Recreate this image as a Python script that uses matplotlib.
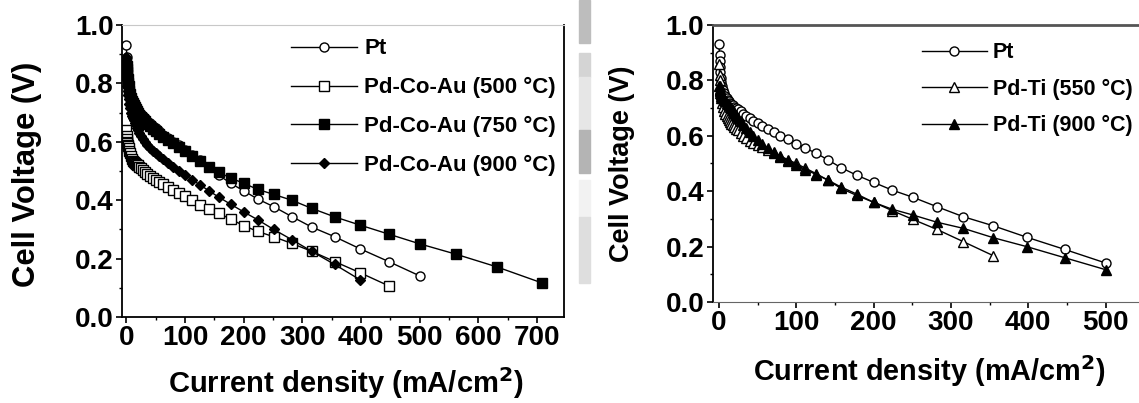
import matplotlib
matplotlib.use('Agg')
import matplotlib.pyplot as plt
from matplotlib.patches import Rectangle
from matplotlib.ticker import MultipleLocator

plt.rcParams['font.family'] = ['Liberation Sans', 'DejaVu Sans']
plt.rcParams['font.weight'] = 'bold'
plt.rcParams['mathtext.default'] = 'bf'

# current density grid (mA/cm2), shared by every curve
cur = [0, 1.0, 1.26, 1.58, 2.0, 2.51, 3.16, 3.98, 5.01, 6.31, 7.94, 10.0,
       11.2, 12.6, 14.1, 15.8, 17.8, 20.0, 22.4, 25.1, 28.2, 31.6, 35.5,
       39.8, 44.7, 50.1, 56.2, 63.1, 70.8, 79.4, 89.1, 100, 112, 126, 141,
       158, 178, 200, 224, 251, 282, 316, 355, 398, 447, 501, 562, 631, 708]

# cell voltages (V)
v_pt = [0.93, 0.89, 0.87, 0.85, 0.83, 0.81, 0.795, 0.78, 0.765, 0.755,
        0.745, 0.735, 0.73, 0.725, 0.72, 0.715, 0.71, 0.705, 0.70, 0.696,
        0.688, 0.68, 0.672, 0.664, 0.655, 0.646, 0.636, 0.625, 0.613, 0.60,
        0.588, 0.572, 0.555, 0.537, 0.513, 0.485, 0.458, 0.432, 0.404,
        0.378, 0.344, 0.308, 0.275, 0.234, 0.19, 0.14]
v_pca500 = [0.64, 0.62, 0.61, 0.60, 0.595, 0.59, 0.585, 0.578, 0.57, 0.56,
            0.55, 0.54, 0.535, 0.53, 0.527, 0.524, 0.522, 0.52, 0.515, 0.51,
            0.503, 0.497, 0.49, 0.483, 0.476, 0.469, 0.462, 0.454, 0.445,
            0.436, 0.426, 0.416, 0.40, 0.385, 0.37, 0.355, 0.335, 0.313,
            0.293, 0.275, 0.252, 0.225, 0.19, 0.152, 0.107]
v_pca750 = [0.87, 0.86, 0.85, 0.84, 0.83, 0.815, 0.80, 0.79, 0.775, 0.765,
            0.75, 0.74, 0.733, 0.726, 0.72, 0.713, 0.706, 0.70, 0.693, 0.686,
            0.678, 0.67, 0.662, 0.654, 0.645, 0.636, 0.627, 0.617, 0.606,
            0.595, 0.583, 0.569, 0.551, 0.533, 0.515, 0.495, 0.476, 0.458,
            0.437, 0.42, 0.40, 0.372, 0.343, 0.315, 0.284, 0.25, 0.215,
            0.172, 0.117]
v_pca900 = [0.89, 0.85, 0.83, 0.81, 0.79, 0.775, 0.76, 0.745, 0.73, 0.715,
            0.70, 0.69, 0.68, 0.673, 0.665, 0.657, 0.648, 0.64, 0.63, 0.62,
            0.61, 0.60, 0.59, 0.58, 0.57, 0.56, 0.55, 0.54, 0.528, 0.515,
            0.50, 0.486, 0.47, 0.452, 0.432, 0.41, 0.386, 0.36, 0.333, 0.30,
            0.265, 0.225, 0.18, 0.128]
v_pt550 = [0.86, 0.82, 0.80, 0.78, 0.765, 0.75, 0.735, 0.72, 0.705, 0.69,
           0.68, 0.67, 0.663, 0.657, 0.65, 0.644, 0.638, 0.632, 0.626, 0.62,
           0.61, 0.60, 0.592, 0.583, 0.575, 0.567, 0.558, 0.549, 0.539,
           0.527, 0.514, 0.50, 0.483, 0.463, 0.44, 0.41, 0.385, 0.36, 0.33,
           0.298, 0.262, 0.218, 0.167]
v_pt900 = [0.78, 0.77, 0.765, 0.76, 0.755, 0.75, 0.745, 0.74, 0.735, 0.73,
           0.725, 0.72, 0.715, 0.71, 0.705, 0.70, 0.692, 0.684, 0.675, 0.665,
           0.652, 0.64, 0.627, 0.613, 0.60, 0.585, 0.57, 0.556, 0.54, 0.525,
           0.51, 0.495, 0.478, 0.46, 0.44, 0.415, 0.39, 0.36, 0.335, 0.314,
           0.288, 0.266, 0.232, 0.20, 0.16, 0.116]

left_series = [
    ('Pt', v_pt, 'o', 'white'),
    ('Pd-Co-Au (500 °C)', v_pca500, 's', 'white'),
    ('Pd-Co-Au (750 °C)', v_pca750, 's', 'black'),
    ('Pd-Co-Au (900 °C)', v_pca900, 'D', 'black'),
]
right_series = [
    ('Pt', v_pt, 'o', 'white'),
    ('Pd-Ti (550 °C)', v_pt550, '^', 'white'),
    ('Pd-Ti (900 °C)', v_pt900, '^', 'black'),
]

W, H = 1139, 403
fig = plt.figure(figsize=(W / 100, H / 100), dpi=100)

# scanned-edge strip between the two panels
for y0, y1, c in [(0, 43, '#bdbdbd'), (53, 77, '#d4d4d4'), (77, 130, '#e6e6e6'),
                  (130, 173, '#b4b4b4'), (180, 217, '#f2f2f2'), (217, 283, '#dedede')]:
    fig.patches.append(Rectangle((579 / W, 1 - y1 / H), 11 / W, (y1 - y0) / H,
                                 transform=fig.transFigure, color=c, zorder=0))


def setup(ax, xlab_size, ylab_size):
    ax.set_ylim(0, 1.0)
    ax.yaxis.set_major_locator(MultipleLocator(0.2))
    ax.yaxis.set_minor_locator(MultipleLocator(0.1))
    ax.xaxis.set_major_locator(MultipleLocator(100))
    ax.xaxis.set_minor_locator(MultipleLocator(50))
    ax.yaxis.set_major_formatter(plt.FuncFormatter(lambda v, p: '%.1f' % v))
    ax.tick_params(which='major', direction='out', length=4, width=1.2,
                   labelsize=20, pad=2)
    ax.tick_params(which='minor', direction='out', length=2.5, width=1.0)
    for t in ax.get_xticklabels() + ax.get_yticklabels():
        t.set_fontweight('bold')
    ax.set_xlabel('Current density (mA/cm$^2$)', fontsize=xlab_size,
                  fontweight='bold')
    ax.set_ylabel('Cell Voltage (V)', fontsize=ylab_size, fontweight='bold')


def draw(ax, series):
    for name, v, m, fc in series:
        ax.plot(cur[:len(v)], v, '-', color='black', lw=1.0, marker=m,
                markersize=6.5 if m != 'D' else 5.5, markerfacecolor=fc,
                markeredgecolor='black', markeredgewidth=1.0, label=name)


# left panel
ax1 = fig.add_axes([122 / W, 1 - 317 / H, 442 / W, 292 / H])
draw(ax1, left_series)
ax1.set_xlim(-7.3, 746)
setup(ax1, 21, 22.3)
ax1.spines['top'].set_color('#c8c8c8')
for s in ['left', 'bottom', 'right']:
    ax1.spines[s].set_linewidth(1.3)
ax1.yaxis.set_label_coords(-0.181, 0.49)
ax1.xaxis.set_label_coords(0.507, -0.165)
ax1.legend(loc='center left', bbox_to_anchor=(290.7 / W, 1 - 107.3 / H),
           bbox_transform=fig.transFigure, frameon=False, borderpad=0,
           borderaxespad=0, handlelength=3.0, handletextpad=0.3,
           labelspacing=0.8, prop={'size': 16, 'weight': 'bold'})

# right panel
ax2 = fig.add_axes([712.7 / W, 1 - 302 / H, (W - 712.7) / W, 277 / H])
draw(ax2, right_series)
ax2.set_xlim(-8, 543.3)
setup(ax2, 20.8, 19.5)
ax2.spines['right'].set_visible(False)
ax2.spines['top'].set_color('#555555')
ax2.spines['top'].set_linewidth(2.0)
ax2.spines['bottom'].set_color('#666666')
ax2.spines['left'].set_linewidth(1.3)
ax2.yaxis.set_label_coords(-0.182, 0.498)
ax2.xaxis.set_label_coords(0.507, -0.185)
ax2.legend(loc='center left', bbox_to_anchor=(922 / W, 1 - 89.2 / H),
           bbox_transform=fig.transFigure, frameon=False, borderpad=0,
           borderaxespad=0, handlelength=3.0, handletextpad=0.3,
           labelspacing=0.72, prop={'size': 15.5, 'weight': 'bold'})

fig.savefig('out.png', dpi=100)
